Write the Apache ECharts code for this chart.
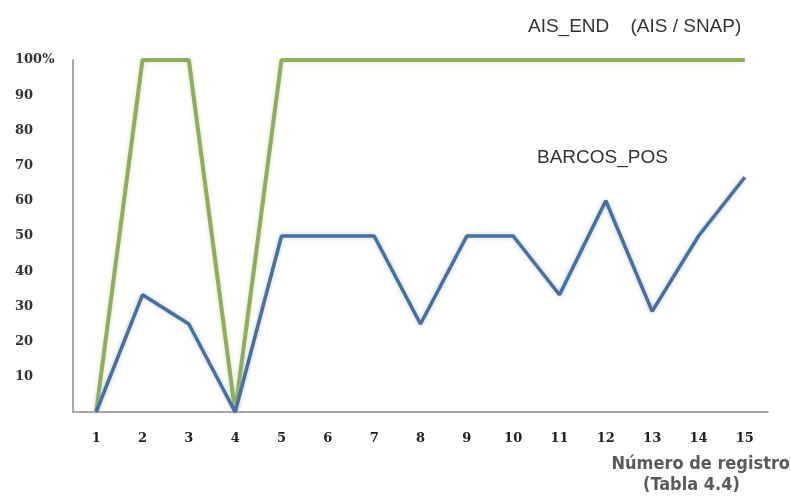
<!DOCTYPE html>
<html><head><meta charset="utf-8">
<script src="https://cdn.jsdelivr.net/npm/echarts@6/dist/echarts.min.js"></script>
<style>html,body{margin:0;padding:0;background:#fff}#c{width:791px;height:503px}</style>
</head><body><div id="c"></div>
<script>
const categories = ['1','2','3','4','5','6','7','8','9','10','11','12','13','14','15'];
const aisEnd = [0,100,100,0,100,100,100,100,100,100,100,100,100,100,100];
const barcosPos = [0,33.3,25,0,50,50,50,25,50,50,33.3,60,28.6,50,66.7];
const yTicks = [0,10,20,30,40,50,60,70,80,90,100];

const chart = echarts.init(document.getElementById('c'), null, {renderer:'canvas'});
chart.setOption({
  animation:false,
  backgroundColor:'#fff',
  grid:{left:73, right:23, top:60, bottom:91},
  xAxis:{
    type:'category', data:categories, boundaryGap:true,
    axisLine:{show:true, lineStyle:{color:'#8a8a8a', width:1.5}},
    axisTick:{show:false},
    axisLabel:{margin:20, color:'#222', fontFamily:'"DejaVu Serif", serif', fontWeight:'bold', fontSize:13}
  },
  yAxis:{
    type:'value', min:0, max:100, interval:10,
    splitLine:{show:false},
    axisLine:{show:true, lineStyle:{color:'#8a8a8a', width:1.5}},
    axisTick:{show:false},
    axisLabel:{align:'left', margin:58, color:'#333', fontFamily:'"DejaVu Serif", serif', fontWeight:'bold', fontSize:13,
      formatter:function(v){ if(v===yTicks[0]) return ''; if(v===yTicks[yTicks.length-1]) return v+'%'; return String(v);} }
  },
  series:[
    {name:'AIS_END', type:'line', data:aisEnd, symbol:'none',
      lineStyle:{color:'#8fad5c', width:4, shadowColor:'rgba(200,215,160,0.7)', shadowBlur:4}},
    {name:'BARCOS_POS', type:'line', data:barcosPos, symbol:'none',
      lineStyle:{color:'#4a6e9e', width:3.5, shadowColor:'rgba(150,180,220,0.7)', shadowBlur:4}}
  ],
  graphic:[
    {type:'text', left:528, top:17, style:{text:'AIS_END    (AIS / SNAP)', fill:'#333', font:'19px "Liberation Sans", Arial, sans-serif'}},
    {type:'text', left:537, top:148, style:{text:'BARCOS_POS', fill:'#333', font:'19px "Liberation Sans", Arial, sans-serif'}},
    {type:'text', right:1, top:455, style:{text:'Número de registro', fill:'#5a5a5a', font:'bold 18px "Liberation Sans Narrow", "DejaVu Sans Condensed", sans-serif'}},
    {type:'text', left:643, top:476, style:{text:'(Tabla 4.4)', fill:'#5a5a5a', font:'bold 18px "Liberation Sans Narrow", "DejaVu Sans Condensed", sans-serif'}}
  ]
});
</script></body></html>
